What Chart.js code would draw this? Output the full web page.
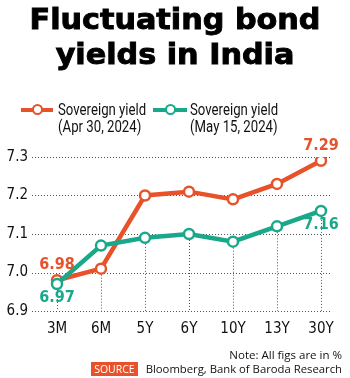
<!DOCTYPE html>
<html>
<head>
<meta charset="utf-8">
<script src="https://cdn.jsdelivr.net/npm/chart.js@4/dist/chart.umd.min.js"></script>
<style>
  body { margin: 0; background: #fff; }
  #wrap { position: relative; width: 350px; height: 378px; overflow: hidden; }
  #myLineChart { position: absolute; left: 0; top: 0; }
  .title { position: absolute; left: 0; width: 350px; text-align: center; font-family: "DejaVu Sans", sans-serif; font-weight: bold; font-size: 28px; line-height: 35px; color: #000; top: 2px; -webkit-text-stroke: 0.9px #000; transform: scaleX(1.08); }
  .cond { font-family: Roboto, sans-serif; transform: scaleX(0.8); transform-origin: 0 0; white-space: nowrap; }
  .leg { position: absolute; font-size: 16.5px; line-height: 17px; color: #111; top: 101px; }
  .sample { position: absolute; height: 4px; top: 108px; }
  .dot { position: absolute; width: 7px; height: 7px; border-radius: 50%; background: #fff; top: 104px; border: 2.5px solid; }
  .note { position: absolute; right: 8px; top: 347px; font-family: "Open Sans", sans-serif; font-size: 11.5px; color: #111; }
  .src { position: absolute; right: 8px; top: 361px; font-family: "Open Sans", sans-serif; font-size: 11.3px; color: #111; }
  .src span { background: #e8522a; color: #fff; padding: 0 3px; margin-right: 8px; font-size: 10.5px; }
</style>
</head>
<body>
<div id="wrap">
  <canvas id="myLineChart" width="350" height="378"></canvas>
  <div class="title">Fluctuating bond<br>yields in India</div>
  <div class="sample" style="left:21px;width:32px;background:#e8522a"></div>
  <div class="dot" style="left:32px;border-color:#e8522a"></div>
  <div class="leg cond" style="left:58px">Sovereign yield<br>(Apr 30, 2024)</div>
  <div class="sample" style="left:153px;width:34px;background:#1aa88a"></div>
  <div class="dot" style="left:165px;border-color:#1aa88a"></div>
  <div class="leg cond" style="left:190px">Sovereign yield<br>(May 15, 2024)</div>
  <div class="note">Note: All figs are in %</div>
  <div class="src"><span>SOURCE</span>Bloomberg, Bank of Baroda Research</div>
</div>
<script>
var tenors = ['3M','6M','5Y','6Y','10Y','13Y','30Y'];
var yield_apr30 = [6.98, 7.01, 7.20, 7.21, 7.19, 7.23, 7.29];
var yield_may15 = [6.97, 7.07, 7.09, 7.10, 7.08, 7.12, 7.16];
var y_ticks = [6.9, 7.0, 7.1, 7.2, 7.3];

var orange = '#e8522a';
var teal = '#1aa88a';
var condFont = '"DejaVu Sans", sans-serif';

// condensed face for the canvas text
var narrow = {
    id: 'narrow',
    beforeDraw: function(chart) { chart.ctx.fontStretch = 'condensed'; }
};

// dotted grid + drop lines, drawn under the data
var guides = {
    id: 'guides',
    beforeDatasetsDraw: function(chart) {
        let c = chart.ctx;
        let xs = chart.scales.x, ys = chart.scales.y;
        c.save();
        c.strokeStyle = '#555';
        c.lineWidth = 1;
        c.setLineDash([1, 2]);
        y_ticks.forEach(function(t){
            let y = Math.round(ys.getPixelForValue(t)) + 0.5;
            c.beginPath(); c.moveTo(32, y); c.lineTo(332, y); c.stroke();
        });
        tenors.forEach(function(t, i){
            let x = Math.round(xs.getPixelForValue(i)) + 0.5;
            let low = Math.min(yield_apr30[i], yield_may15[i]);
            c.beginPath();
            c.moveTo(x, ys.getPixelForValue(low) + 6);
            c.lineTo(x, ys.bottom);
            c.stroke();
        });
        c.restore();
    }
};

// value labels at both ends
var endLabels = {
    id: 'endLabels',
    afterDatasetsDraw: function(chart) {
        let c = chart.ctx;
        let xs = chart.scales.x, ys = chart.scales.y;
        let last = tenors.length - 1;
        let items = [
            [yield_apr30[0], 0, orange, 0, -15],
            [yield_may15[0], 0, teal, 0, 14],
            [yield_apr30[last], last, orange, 0, -15],
            [yield_may15[last], last, teal, 0, 14]
        ];
        c.save();
        c.font = 'bold 16px ' + condFont;
        c.fontStretch = 'condensed';
        c.textAlign = 'center';
        c.textBaseline = 'middle';
        items.forEach(function(it){
            c.fillStyle = it[2];
            c.fillText(it[0].toFixed(2), xs.getPixelForValue(it[1]) + it[3], ys.getPixelForValue(it[0]) + it[4]);
        });
        c.restore();
    }
};

var ctx = document.getElementById('myLineChart');
var myLineChart = new Chart(ctx, {
    type: 'line',
    data: {
        labels: tenors,
        datasets: [{
            label: 'Sovereign yield (May 15, 2024)',
            data: yield_may15,
            borderColor: teal,
            backgroundColor: '#fff',
            borderWidth: 4.5,
            pointRadius: 5,
            pointBorderWidth: 2.5,
            pointBackgroundColor: '#fff',
            pointBorderColor: teal
        }, {
            label: 'Sovereign yield (Apr 30, 2024)',
            data: yield_apr30,
            borderColor: orange,
            backgroundColor: '#fff',
            borderWidth: 4.5,
            pointRadius: 5,
            pointBorderWidth: 2.5,
            pointBackgroundColor: '#fff',
            pointBorderColor: orange
        }]
    },
    options: {
        responsive: false,
        animation: false,
        layout: { padding: { top: 157, right: 29, left: 0, bottom: 0 } },
        plugins: {
            legend: { display: false },
            tooltip: { enabled: false }
        },
        scales: {
            x: {
                offset: false,
                grid: { display: false, drawTicks: false },
                border: { display: false },
                ticks: { color: '#111', padding: 9, font: { family: condFont, size: 15 } },
                afterFit: function(s) { s.height = 67; }
            },
            y: {
                min: 6.9,
                max: 7.3,
                grid: { display: false, drawTicks: false },
                border: { display: false },
                afterBuildTicks: function(s) { s.ticks = y_ticks.map(function(v){ return { value: v }; }); },
                ticks: {
                    color: '#111',
                    padding: 29,
                    font: { family: condFont, size: 15 },
                    callback: function(val) { return val.toFixed(1); }
                },
                afterFit: function(s) { s.width = 57; }
            }
        }
    },
    plugins: [narrow, guides, endLabels]
});
</script>
</body>
</html>
